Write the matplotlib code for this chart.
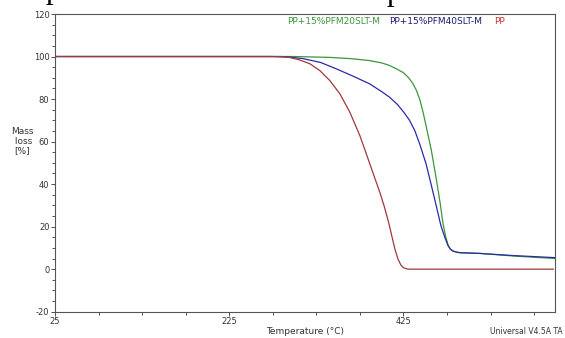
import matplotlib
matplotlib.use("Agg")
import matplotlib.pyplot as plt
from matplotlib.ticker import MultipleLocator, FixedLocator

plt.rcParams["axes.unicode_minus"] = False

# Data
pp_T = [25, 285, 295, 305, 317.6, 329, 340.5, 352, 363.5, 375, 386, 392, 398, 403, 408, 412, 415.5, 419, 422, 425, 429, 432, 597]
pp_y = [100, 100, 99.5, 98.5, 96.6, 93.4, 88.7, 82.5, 73.8, 62.8, 50.0, 43.0, 36.0, 29.5, 22.0, 15.0, 9.0, 4.5, 2.0, 0.7, 0.1, 0.0, 0.0]

m40_T = [25, 275, 295, 310, 330, 348, 367, 386, 400, 409, 418, 426, 432, 438, 444, 451, 457, 463, 468, 472.5, 476, 479, 482, 486, 490, 513, 551, 600]
m40_y = [100, 100, 99.7, 99.0, 97.2, 94.2, 90.8, 87.2, 83.5, 80.9, 77.5, 73.5, 70.0, 65.2, 58.5, 49.5, 39.5, 29.2, 20.5, 15.0, 11.2, 9.4, 8.5, 8.0, 7.7, 7.4, 6.4, 5.4]

m20_T = [25, 300, 340, 365, 386, 400, 409, 417, 425, 431, 436, 440, 444, 448, 452, 457, 463, 467, 470.5, 473.5, 476.5, 479, 482, 486, 490, 513, 551, 600]
m20_y = [100, 100, 99.6, 99.0, 98.1, 97.0, 95.8, 94.2, 92.4, 90.0, 87.2, 84.0, 79.5, 73.0, 65.5, 56.0, 41.7, 31.5, 21.3, 15.3, 11.1, 9.3, 8.5, 8.0, 7.8, 7.4, 6.2, 5.0]

legend_labels = ["PP+15%PFM20SLT-M", "PP+15%PFM40SLT-M", "PP"]
x_major = [25, 225, 425]

fig = plt.figure(figsize=(5.65, 3.38), dpi=100)
ax = fig.add_axes([55/565, 1-311.7/338, 500/565, (311.7-14)/338])

c_green = "#3c963c"
c_blue = "#2a2aa8"
c_red = "#a0383c"

ax.plot(m20_T, m20_y, color=c_green, lw=0.9, zorder=2)
ax.plot(m40_T, m40_y, color=c_blue, lw=0.9, zorder=3)
ax.plot(pp_T, pp_y, color=c_red, lw=0.9, zorder=4)

ax.set_xlim(25, 599)
ax.set_ylim(-20, 120)
ax.xaxis.set_major_locator(FixedLocator(x_major))
ax.xaxis.set_minor_locator(MultipleLocator(50, offset=25))
ax.yaxis.set_major_locator(MultipleLocator(20))
ax.yaxis.set_minor_locator(MultipleLocator(5))
ax.tick_params(which="major", length=3, width=0.6, labelsize=6, colors="#333333", pad=1)
ax.tick_params(which="minor", length=2, width=0.6, colors="#333333")
for s in ax.spines.values():
    s.set_color("#555555")
    s.set_linewidth(0.8)

fig.text(305/565, 1-332/338, "Temperature (°C)", fontsize=6.5, color="#333333",
         ha="center", va="center")
fig.text(22/565, 1-141/338, "Mass\n loss\n[%]", fontsize=6.5, color="#333333",
         ha="center", va="center", linespacing=1.1)

# legend texts
cols = [c_green, "#1c1c6e", "#cc3333"]
xs = [287, 389, 494]
for lab, c, x in zip(legend_labels, cols, xs):
    fig.text(x/565, 1-22/338, lab, fontsize=6.5, color=c, ha="left", va="center")

fig.text(563/565, 1-332/338, "Universal V4.5A TA", fontsize=5.5, color="#333333",
         ha="right", va="center")

# cut-off caption fragments at the very top (as in the reference)
fig.text(53/565, 1+2/338, "p", fontsize=22, family="Liberation Serif",
         ha="center", va="baseline", color="black")
fig.text(394/565, 1+0/338, "p", fontsize=22, family="Liberation Serif",
         ha="center", va="baseline", color="black")

fig.savefig("out.png", dpi=100)
